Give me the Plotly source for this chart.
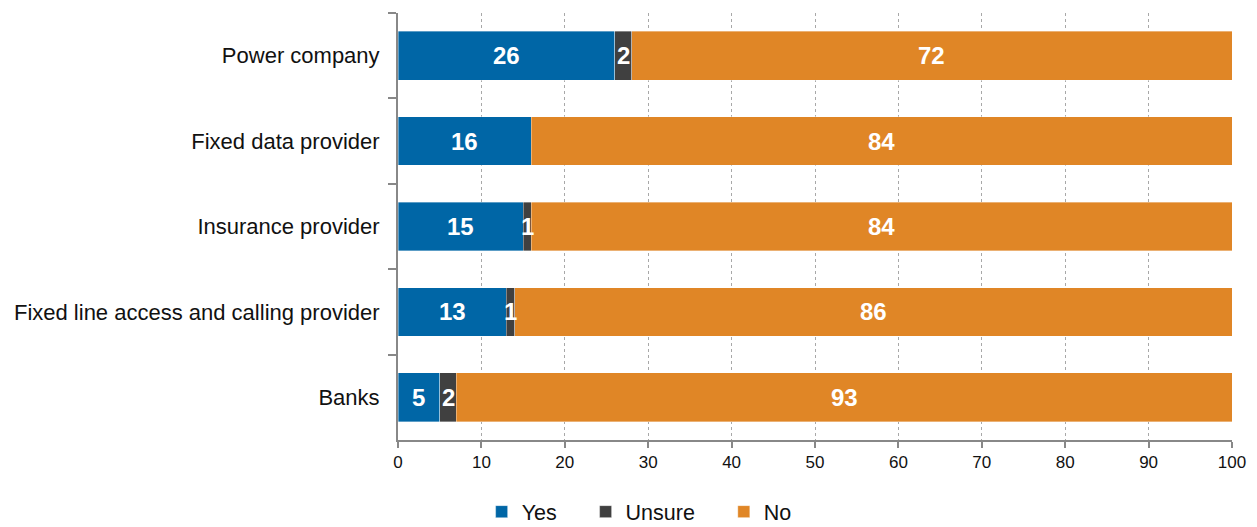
import plotly.graph_objects as go

categories = ["Power company", "Fixed data provider", "Insurance provider",
              "Fixed line access and calling provider", "Banks"]
yes_vals = [26, 16, 15, 13, 5]
unsure_vals = [2, 0, 1, 1, 2]
no_vals = [72, 84, 84, 86, 93]
series_names = ["Yes", "Unsure", "No"]
series_colors = ["#0066A6", "#404040", "#E08626"]
x_ticks = [0, 10, 20, 30, 40, 50, 60, 70, 80, 90, 100]

FONT = "Liberation Sans, Arial, Helvetica, sans-serif"
series = [yes_vals, unsure_vals, no_vals]

fig = go.Figure()
pad = "\u00a0" * 4
for name, vals, col in zip(series_names, series, series_colors):
    fig.add_trace(go.Bar(
        y=categories, x=vals, name=name + pad, orientation="h",
        marker=dict(color=col, line=dict(color="rgba(255,255,255,0.45)", width=0.8)),
        hoverinfo="x+y+name",
    ))

annotations = []
for i, cat in enumerate(categories):
    start = 0
    for vals in series:
        v = vals[i]
        if v > 0:
            annotations.append(dict(
                x=start + v / 2, y=cat, xref="x", yref="y", text=str(v),
                showarrow=False, xanchor="center", yanchor="middle",
                font=dict(family=FONT, size=24, color="white", weight="bold"),
            ))
        start += v

fig.update_layout(
    barmode="stack",
    bargap=0.43,
    width=1257, height=527,
    margin=dict(l=398, r=25, t=13, b=87),
    paper_bgcolor="white", plot_bgcolor="white",
    font=dict(family=FONT, color="#111111"),
    annotations=annotations,
    showlegend=True,
    legend=dict(
        orientation="h", xref="container", yref="container",
        x=0.518, xanchor="center", y=0.068, yanchor="top",
        font=dict(family=FONT, size=21.5, color="#111111"),
        traceorder="normal", bgcolor="rgba(0,0,0,0)",
    ),
    xaxis=dict(
        range=[0, 100], tickvals=x_ticks, ticks="outside", ticklen=6,
        tickcolor="#888888", tickwidth=2,
        showline=True, linecolor="#888888", linewidth=2,
        showgrid=True, gridcolor="#A8A8A8", griddash="dot", gridwidth=1,
        zeroline=False,
        tickfont=dict(family=FONT, size=17, color="#111111"),
    ),
    yaxis=dict(
        type="category", categoryorder="array", categoryarray=categories,
        autorange="reversed",
        tickson="boundaries", ticks="outside", ticklen=8,
        tickcolor="#888888", tickwidth=2,
        showline=True, linecolor="#888888", linewidth=2,
        showgrid=False, zeroline=False,
        tickfont=dict(family=FONT, size=22, color="#111111"),
        ticklabelstandoff=12,
    ),
)

fig.write_html("out.html")
